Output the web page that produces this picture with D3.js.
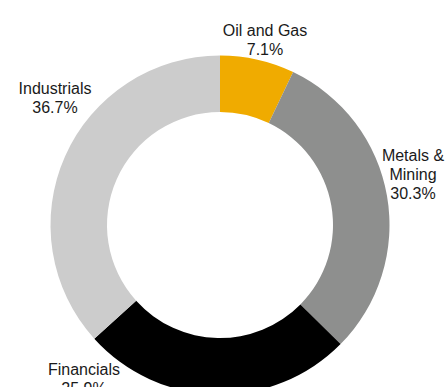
<!DOCTYPE html>
<html>
<head>
<meta charset="utf-8">
<script src="https://cdn.jsdelivr.net/npm/d3@7.9.0/dist/d3.min.js"></script>
<style>
  html, body { margin: 0; padding: 0; background: #fff; }
  svg { display: block; }
  text { font-family: "Liberation Sans", Arial, sans-serif; font-size: 16px; fill: #1a1a1a; }
</style>
</head>
<body>
<svg id="chart" width="445" height="387"></svg>
<script>
// sector weights (%), clockwise from 12 o'clock
const sectors = ['Oil and Gas', 'Metals & Mining', 'Financials', 'Industrials'];
const shares = [7.1, 30.3, 25.9, 36.7];
const sectorColors = ['#f0ab00', '#8e8f8e', '#000000', '#cccccc'];

// label line breaks and where each label block sits (center x, first baseline y)
const labelLines = [['Oil and Gas'], ['Metals &', 'Mining'], ['Financials'], ['Industrials']];
const labelAt = [[265, 36], [413, 161], [84, 375], [55, 94]];

const svg = d3.select('#chart');
const cx = 220, cy = 225;

const pie = d3.pie().sort(null).value(d => d);
const arcGen = d3.arc().innerRadius(113).outerRadius(169.5);

const color = d3.scaleOrdinal().domain(sectors).range(sectorColors);

const g = svg.append('g').attr('transform', `translate(${cx},${cy})`);

g.selectAll('path')
  .data(pie(shares))
  .join('path')
  .attr('d', arcGen)
  .attr('fill', (d, i) => color(sectors[i]));

// labels
sectors.forEach((name, i) => {
  const lines = labelLines[i].concat([d3.format('.1f')(shares[i]) + '%']);
  const t = svg.append('text')
    .attr('text-anchor', 'middle')
    .attr('x', labelAt[i][0])
    .attr('y', labelAt[i][1]);
  lines.forEach((line, j) => {
    t.append('tspan')
      .attr('x', labelAt[i][0])
      .attr('dy', j === 0 ? 0 : 18.8)
      .text(line);
  });
});
</script>
</body>
</html>
